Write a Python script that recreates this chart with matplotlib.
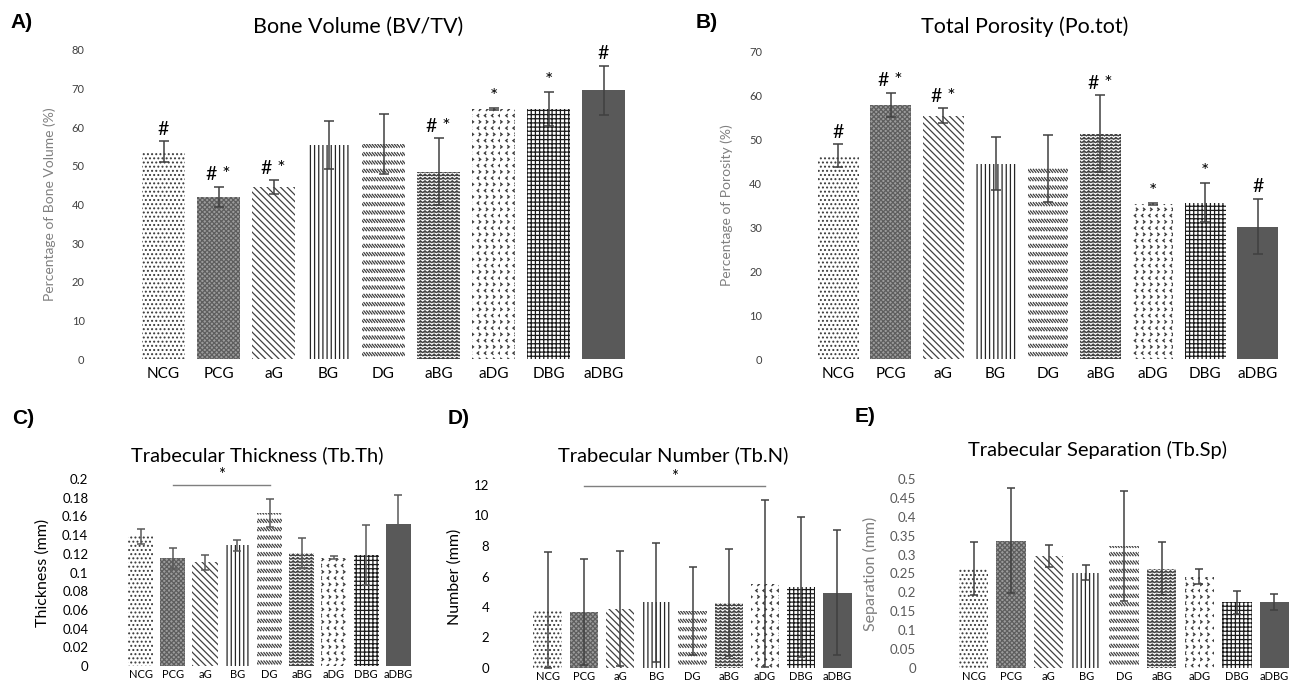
import warnings
import numpy as np
import matplotlib
matplotlib.use('Agg')
import matplotlib.pyplot as plt
import matplotlib.hatch as mhatch
from matplotlib.path import Path
from matplotlib.ticker import FuncFormatter

# custom hatch letters (d, z, c) are not in matplotlib's list -> silence the warning
warnings.filterwarnings('ignore', message='hatch must consist')

groups = ['NCG', 'PCG', 'aG', 'BG', 'DG', 'aBG', 'aDG', 'DBG', 'aDBG']

# A) Bone volume (BV/TV), %
bv_mean = [53.7, 42.0, 44.5, 55.5, 55.7, 48.5, 64.7, 64.7, 69.6]
bv_err = [2.7, 2.6, 1.8, 6.2, 7.8, 8.7, 0.2, 4.3, 6.3]
bv_marks = ['#', '# *', '# *', '', '', '# *', '*', '*', '#']

# B) Total porosity (Po.tot), %
po_mean = [46.2, 57.8, 55.3, 44.4, 43.3, 51.2, 35.2, 35.5, 30.1]
po_err = [2.6, 2.7, 1.7, 6.1, 7.7, 8.7, 0.2, 4.4, 6.3]
po_marks = ['#', '# *', '# *', '', '', '# *', '*', '*', '#']

# C) Trabecular thickness, mm
th_mean = [0.139, 0.115, 0.111, 0.129, 0.164, 0.121, 0.116, 0.119, 0.152]
th_err = [0.008, 0.011, 0.008, 0.006, 0.015, 0.016, 0.002, 0.032, 0.031]
th_sig = ('PCG', 'DG', 0.194)

# D) Trabecular number
tn_mean = [3.79, 3.68, 3.90, 4.31, 3.72, 4.29, 5.54, 5.32, 4.93]
tn_err = [3.8, 3.5, 3.8, 3.9, 2.9, 3.5, 5.5, 4.6, 4.1]
tn_sig = ('PCG', 'aDG', 11.93)

# E) Trabecular separation, mm
sp_mean = [0.263, 0.337, 0.296, 0.252, 0.323, 0.263, 0.241, 0.174, 0.175]
sp_err = [0.071, 0.139, 0.030, 0.020, 0.146, 0.070, 0.020, 0.031, 0.021]


# ---- extra hatch patterns to mimic the Excel fills ----
class DashHatch(mhatch.HatchPatternBase):
    # rows of short "\" dashes
    def __init__(self, hatch, density):
        self.rows = hatch.count('d') * density
        self.cols = self.rows * 3
        self.num_vertices = self.rows * self.cols * 2

    def set_vertices_and_codes(self, vertices, codes):
        yy, xx = np.meshgrid(np.arange(self.rows) + 0.5, np.arange(self.cols), indexing='ij')
        x0 = xx.ravel() / self.cols
        y0 = yy.ravel() / self.rows
        w = 0.9 / self.cols
        h = 1.1 / self.cols
        vertices[0::2, 0] = x0
        vertices[0::2, 1] = y0 + h / 2
        vertices[1::2, 0] = x0 + w
        vertices[1::2, 1] = y0 - h / 2
        codes[0::2] = Path.MOVETO
        codes[1::2] = Path.LINETO


class ZigZagHatch(mhatch.HatchPatternBase):
    # horizontal wavy lines
    def __init__(self, hatch, density):
        self.rows = hatch.count('z') * density
        self.teeth = int(self.rows * 0.75)
        self.num_vertices = self.rows * (2 * self.teeth + 1)

    def set_vertices_and_codes(self, vertices, codes):
        n = 2 * self.teeth + 1
        xs = np.linspace(0, 1, n)
        amp = 0.28 / self.rows
        ys = np.where(np.arange(n) % 2 == 0, -amp, amp)
        for r in range(self.rows):
            sl = slice(r * n, (r + 1) * n)
            vertices[sl, 0] = xs
            vertices[sl, 1] = (r + 0.5) / self.rows + ys
            codes[sl] = Path.LINETO
            codes[r * n] = Path.MOVETO


class ChevronHatch(mhatch.HatchPatternBase):
    # scattered small < > marks
    def __init__(self, hatch, density):
        self.rows = int(hatch.count('c') * density * 4 / 3)
        self.cols = int(self.rows * 0.9)
        self.num_vertices = self.rows * self.cols * 3

    def set_vertices_and_codes(self, vertices, codes):
        rr, cc = np.meshgrid(np.arange(self.rows), np.arange(self.cols), indexing='ij')
        rr = rr.ravel()
        cc = cc.ravel()
        xc = (cc + 0.5 * (rr % 2) + 0.3) / self.cols
        yc = (rr + 0.5) / self.rows
        w = 0.22 / self.cols * np.where(rr % 2 == 0, 1, -1)
        h = 0.2 / self.rows
        vertices[0::3, 0] = xc - w
        vertices[0::3, 1] = yc + h
        vertices[1::3, 0] = xc
        vertices[1::3, 1] = yc
        vertices[2::3, 0] = xc - w
        vertices[2::3, 1] = yc - h
        codes[0::3] = Path.MOVETO
        codes[1::3] = Path.LINETO
        codes[2::3] = Path.LINETO


mhatch._hatch_types.extend([DashHatch, ZigZagHatch, ChevronHatch])

bar_hatch = ['....', 'xxxxxxx', '\\\\\\\\\\', '||||', 'dd', 'zzzzz', 'cc', '++++', None]
bar_face = ['white', '#9c9c9c', 'white', 'white', 'white', 'white', 'white', 'white', '#595959']
bar_hcol = ['#3a3a3a', '#5e5e5e', '#404040', '#262626', '#404040', '#404040', '#404040', '#1a1a1a', '#595959']

plt.rcParams['font.family'] = ['Lato', 'DejaVu Sans']
plt.rcParams['hatch.linewidth'] = 0.9


def draw_panel(ax, means, errs, ymax, ystep, tick_size, xtick_size, tick_col, err_col, capsize, ypad, xpad):
    x = np.arange(len(groups))
    bars = ax.bar(x, means, width=0.78, color=bar_face, linewidth=0, zorder=2)
    for b, h, c in zip(bars, bar_hatch, bar_hcol):
        b.set_edgecolor(c)
        b.set_linewidth(0)
        if h:
            b.set_hatch(h)
    ax.errorbar(x, means, yerr=errs, fmt='none', ecolor=err_col, elinewidth=1.1,
                capsize=capsize, capthick=1.1, zorder=3)
    ax.set_xlim(-0.5, len(groups) - 0.5)
    ax.set_ylim(0, ymax)
    ax.set_yticks(np.arange(0, ymax + ystep / 2, ystep))
    ax.yaxis.set_major_formatter(FuncFormatter(lambda v, p: '%g' % round(v, 3)))
    ax.set_xticks(x)
    ax.set_xticklabels(groups)
    ax.tick_params(axis='y', length=0, labelsize=tick_size, labelcolor=tick_col, pad=ypad)
    ax.tick_params(axis='x', length=0, labelsize=xtick_size, labelcolor='black', pad=xpad)
    for s in ax.spines.values():
        s.set_visible(False)
    ax.patch.set_alpha(0)


def add_marks(ax, means, errs, marks):
    for i, m in enumerate(marks):
        if m:
            ax.annotate(m, (i, means[i] + errs[i]), xytext=(0, 2.5), textcoords='offset points',
                        ha='center', va='bottom', fontsize=14, color='black')


def add_sig(ax, sig, size):
    x0 = groups.index(sig[0])
    x1 = groups.index(sig[1])
    ax.plot([x0, x1], [sig[2], sig[2]], color='#7f7f7f', lw=1, clip_on=False, zorder=4)
    ax.annotate('*', ((x0 + x1) / 2, sig[2]), xytext=(0, 1), textcoords='offset points',
                ha='center', va='bottom', fontsize=size, color='black', annotation_clip=False)


W, H = 1299, 686
fig = plt.figure(figsize=(W / 100, H / 100), dpi=100)
fig.patch.set_facecolor('white')


def px_axes(left, right, top, bottom):
    return fig.add_axes([left / W, 1 - bottom / H, (right - left) / W, (bottom - top) / H])


# A
axA = px_axes(136, 631, 50, 359)
draw_panel(axA, bv_mean, bv_err, 80, 10, 8, 11, '#404040', '#404040', 3.5, 37, 6)
add_marks(axA, bv_mean, bv_err, bv_marks)
axA.set_ylabel('Percentage of Bone Volume (%)', fontsize=10, color='#808080')
axA.yaxis.set_label_coords(-0.162, 0.5)

# B
axB = px_axes(812, 1284, 51, 359)
draw_panel(axB, po_mean, po_err, 70, 10, 8, 11, '#404040', '#404040', 3.5, 36, 6)
add_marks(axB, po_mean, po_err, po_marks)
axB.set_ylabel('Percentage of Porosity (%)', fontsize=10, color='#808080')
axB.yaxis.set_label_coords(-0.167, 0.5)

# C
axC = px_axes(124.4, 414.6, 479, 666)
draw_panel(axC, th_mean, th_err, 0.2, 0.02, 9.5, 8, 'black', '#595959', 3, 26, 2)
add_sig(axC, th_sig, 12)
axC.set_ylabel('Thickness (mm)', fontsize=11.5, color='black')
axC.yaxis.set_label_coords(-0.256, 0.5)

# D
axD = px_axes(529.4, 855.6, 485, 668)
draw_panel(axD, tn_mean, tn_err, 12, 2, 9.5, 8, 'black', '#404040', 3, 29, 2)
add_sig(axD, tn_sig, 12)
axD.set_ylabel('Number (mm)', fontsize=11.5, color='black')
axD.yaxis.set_label_coords(-0.207, 0.5)

# E
axE = px_axes(954.7, 1293.3, 479, 668)
draw_panel(axE, sp_mean, sp_err, 0.5, 0.05, 9.5, 8, '#595959', '#404040', 3, 28, 2)
axE.set_ylabel('Separation (mm)', fontsize=11.5, color='#7f7f7f')
axE.yaxis.set_label_coords(-0.2265, 0.5)

# titles and panel letters
titles = [('Bone Volume (BV/TV)', 358, 27, 15.5),
          ('Total Porosity (Po.tot)', 1025, 27, 15.5),
          ('Trabecular Thickness (Tb.Th)', 257, 455, 14.5),
          ('Trabecular Number (Tb.N)', 673, 455, 14.5),
          ('Trabecular Separation (Tb.Sp)', 1097, 450, 14.5)]
for t, x, y, s in titles:
    fig.text(x / W, 1 - y / H, t, ha='center', va='center', fontsize=s)

letters = [('A)', 10, 22), ('B)', 696, 22), ('C)', 12, 418), ('D)', 448, 418), ('E)', 855, 417)]
for t, x, y in letters:
    fig.text(x / W, 1 - y / H, t, ha='left', va='center', fontsize=15,
             fontweight='bold', family=['Liberation Sans', 'DejaVu Sans'])

fig.savefig('out.png', dpi=100)
